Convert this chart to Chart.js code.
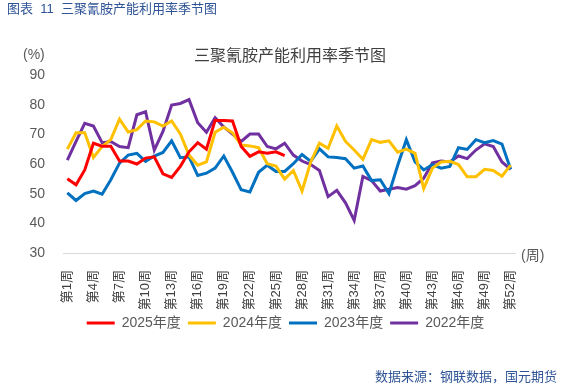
<!DOCTYPE html>
<html>
<head>
<meta charset="utf-8">
<script src="https://cdn.jsdelivr.net/npm/chart.js@4.4.1/dist/chart.umd.min.js"></script>
<style>
  body { margin: 0; background: #fff; font-family: "Liberation Sans", "Noto Sans CJK SC", sans-serif; }
  #wrap { position: relative; width: 571px; height: 384px; overflow: hidden; }
  #c { position: absolute; left: 0; top: 0; }
  .txt { position: absolute; white-space: nowrap; line-height: 1; }
</style>
</head>
<body>
<div id="wrap">
  <canvas id="c" width="571" height="384"></canvas>
  <div class="txt" style="left:7px;top:2px;font-size:13px;color:#2F5496;">图表&nbsp; 11&nbsp; 三聚氰胺产能利用率季节图</div>
  <div class="txt" style="left:0;width:580px;top:48px;text-align:center;font-size:16px;color:#404040;">三聚氰胺产能利用率季节图</div>
  <div class="txt" style="left:23px;top:47px;font-size:14px;color:#595959;">(%)</div>
  <div class="txt" style="left:521px;top:248px;font-size:14px;color:#595959;">(周)</div>
  <div class="txt" style="left:375px;top:370px;font-size:13px;color:#2F5496;">数据来源：钢联数据，国元期货</div>
</div>
<script>
// weeks 1..52
const weeks = [];
for (let i = 1; i <= 52; i++) weeks.push('第' + i + '周');

const yr2025 = [55, 53, 58, 67, 66, 66, 61, 61, 60, 62, 62.4, 56.7, 55.5, 59.2, 64.1, 67.2, 65, 74.7, 74.7, 74.5,
  65.9, 62.6, 64.1, 63.6, 64.1, 62.8];
const yr2024 = [65, 70.5, 70.5, 62.2, 65.9, 68.2, 75.1, 70.8, 71.6, 74.5, 74.2, 72.8, 74.5, 70.1, 63, 59.6, 60.7,
  70.7, 72.4, 70.5, 66.4, 66.1, 65.5, 60.1, 59.3, 54.9, 57.8, 50.9, 60.7, 67, 65.3, 72.8, 67.6, 64.7, 61.6,
  68.2, 67.3, 67.8, 64, 65, 63.6, 51.7, 58.6, 60.7, 60.9, 59.8, 55.7, 55.7, 58.2, 57.8, 55.9, 59.6];
const yr2023 = [50.3, 47.7, 50, 50.9, 49.8, 54.7, 60.3, 63, 63.6, 60.9, 62.7, 63.9, 67.8, 62.1, 62.4, 56.1, 56.9,
  58.6, 62.7, 57.2, 51.3, 50.6, 57.2, 59.6, 57.5, 57.5, 60.1, 63.2, 60.9, 65.1, 62.4, 62.2, 61.8, 58.6, 59.3,
  54.4, 54.7, 50, 59.5, 68.2, 60.7, 58, 59.8, 58.6, 59.2, 65.5, 64.9, 68.2, 67.2, 67.9, 66.7, 58.2];
const yr2022 = [61.3, 67.6, 73.7, 72.8, 67.2, 67.6, 65.9, 65.5, 76.6, 77.6, 64.7, 71, 79.9, 80.4, 81.7, 73.9, 70.7,
  75.6, 72.5, 70.1, 67.6, 70.1, 70.1, 65.9, 65.1, 67, 63, 61, 59.8, 57.8, 49, 51.1, 46.9, 41, 55.8, 54.4,
  50.9, 51.5, 52.1, 51.5, 52.7, 55.2, 60.4, 61, 60.7, 62.7, 61.8, 64.7, 66.8, 65.9, 60.7, 58.2];

const seriesNames = ['2025年度', '2024年度', '2023年度', '2022年度'];
const seriesData = [yr2025, yr2024, yr2023, yr2022];
const seriesColors = ['#FF0000', '#FFC000', '#0070C0', '#7030A0'];

const font = '"Liberation Sans", "Noto Sans CJK SC", sans-serif';

new Chart(document.getElementById('c'), {
  type: 'line',
  data: {
    labels: weeks,
    datasets: seriesNames.map((name, i) => ({
      label: name,
      data: seriesData[i],
      borderColor: seriesColors[i],
      backgroundColor: seriesColors[i],
      borderWidth: 3,
      pointRadius: 0,
      tension: 0,
      fill: false
    }))
  },
  options: {
    responsive: false,
    animation: false,
    layout: { padding: { left: 0, right: 0, top: 75, bottom: 44 } },
    plugins: {
      tooltip: { enabled: false },
      legend: {
        position: 'bottom',
        labels: {
          usePointStyle: true,
          pointStyle: 'line',
          pointStyleWidth: 28,
          padding: 7,
          color: '#595959',
          font: { family: font, size: 14 }
        }
      }
    },
    scales: {
      x: {
        offset: true,
        grid: { display: false },
        border: { display: true, color: '#d9d9d9', width: 1 },
        afterFit: s => { s.height = 56; },
        ticks: {
          autoSkip: false,
          minRotation: 90,
          maxRotation: 90,
          padding: 9,
          color: '#404040',
          font: { family: font, size: 13 },
          callback: function(v, i) { return i % 3 === 0 ? this.getLabelForValue(v) : ''; }
        }
      },
      y: {
        min: 30,
        max: 90,
        grid: { display: false },
        border: { display: false },
        afterFit: s => { s.width = 63; },
        ticks: {
          stepSize: 10,
          padding: 10,
          color: '#595959',
          font: { family: font, size: 14 }
        }
      },
      // empty right axis, only keeps space so the plot ends where the original does
      yRight: {
        position: 'right',
        min: 30,
        max: 90,
        grid: { display: false },
        border: { display: false },
        ticks: { display: false },
        afterFit: s => { s.width = 56; }
      }
    }
  }
});
</script>
</body>
</html>
